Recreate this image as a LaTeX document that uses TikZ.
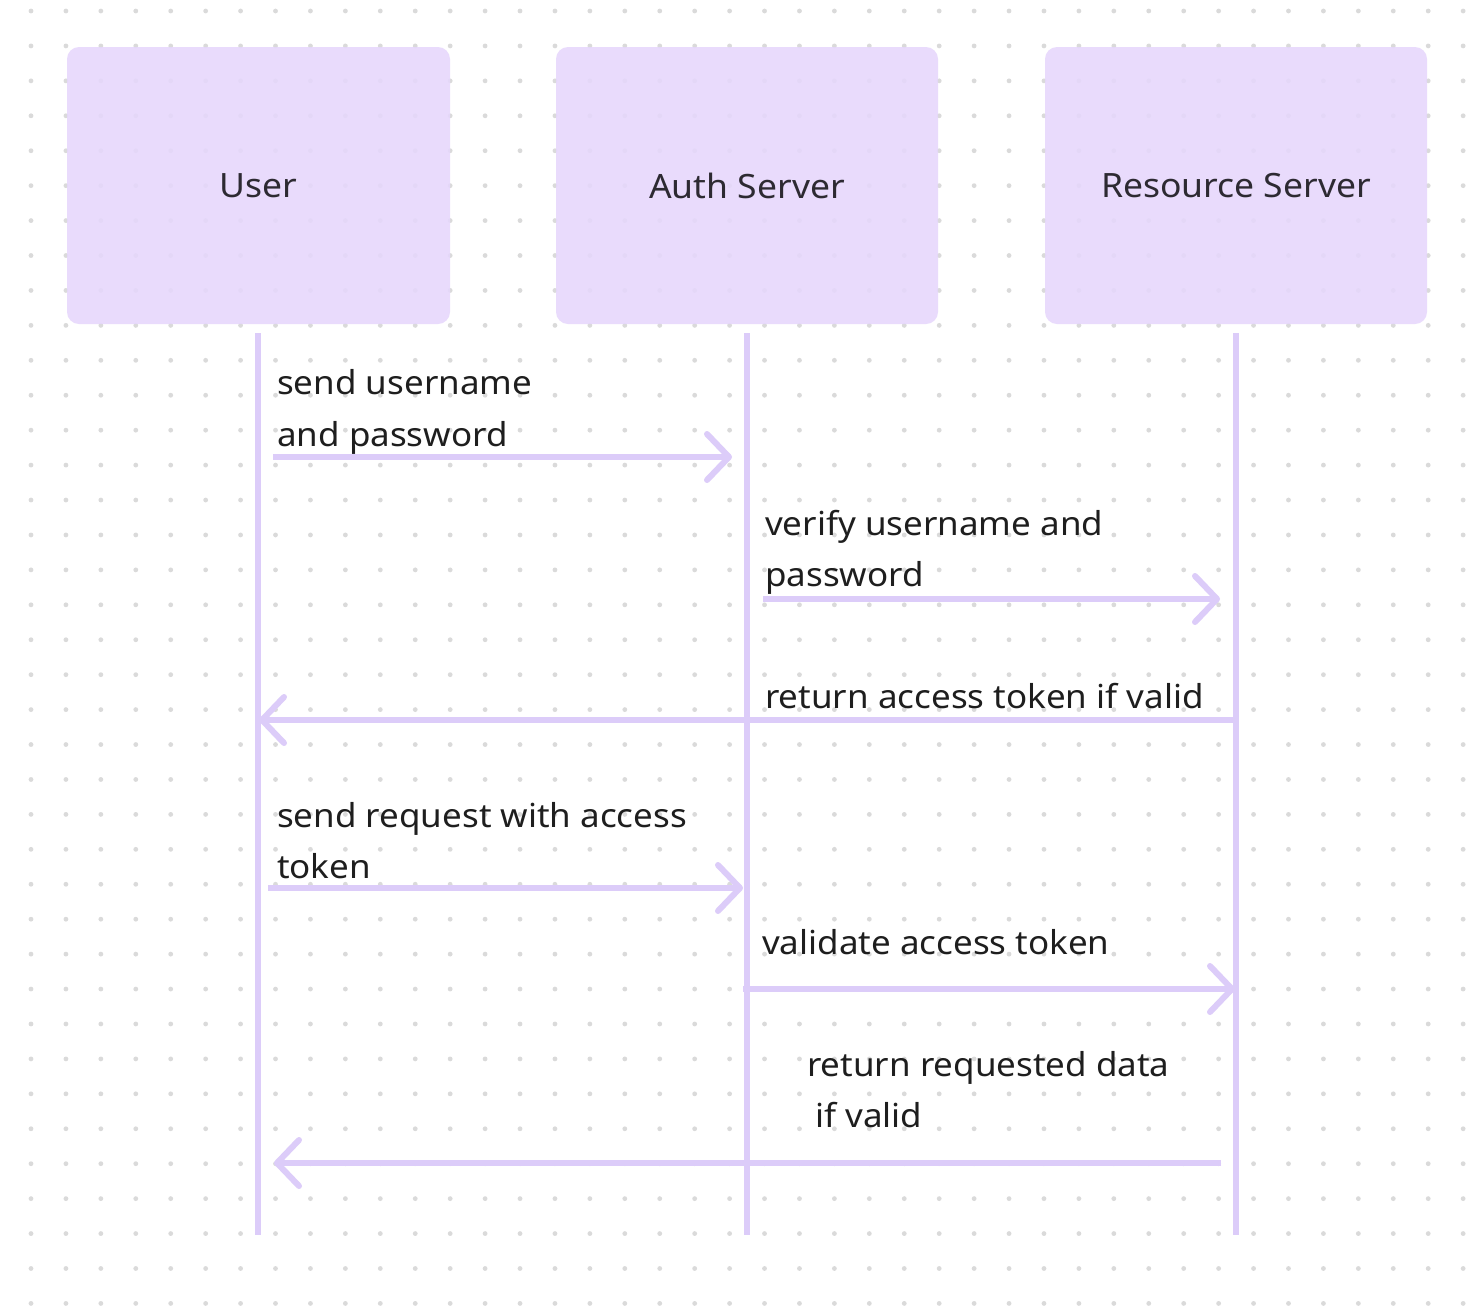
\documentclass[tikz,border=0pt]{standalone}
\usepackage{fontspec}
\setmainfont[FakeStretch=1.06]{Noto Sans}
\usetikzlibrary{arrows.meta}
\definecolor{boxfill}{RGB}{230,215,252}
\definecolor{lifeline}{RGB}{220,204,249}
\definecolor{dotc}{RGB}{218,218,218}
\definecolor{txt}{RGB}{30,30,30}
\definecolor{actortxt}{RGB}{45,42,50}
\tikzset{
  actor/.style={fill=boxfill, fill opacity=0.88, rounded corners=12pt, draw=none},
  actorlabel/.style={text=actortxt, font=\fontsize{33.5}{40}\selectfont, anchor=center},
  life/.style={draw=lifeline, line width=6pt},
  msg/.style={draw=lifeline, line width=6pt, -{Straight Barb[length=22pt,width=46pt,round]}},
  msglabel/.style={text=txt, font=\fontsize{33}{51.5}\selectfont, anchor=base west, inner sep=0pt, align=left},
}
\begin{document}
\begin{tikzpicture}[x=1pt,y=-1pt]
\useasboundingbox (0,0) rectangle (1484,1310);
\fill[white] (0,0) rectangle (1484,1310);
% dot grid
\foreach \i in {0,...,41} {
  \foreach \j in {0,...,37} {
    \fill[dotc] (31+\i*34.93, 11+\j*34.93) circle (2.4pt);
  }
}
% actor boxes
\fill[actor] (67,47) rectangle (450,324);
\fill[actor] (556,47) rectangle (938,324);
\fill[actor] (1045,47) rectangle (1427,324);
\node[actorlabel] (user) at (258.5,185.5) {User};
\node[actorlabel] (auth) at (747,185.5) {Auth Server};
\node[actorlabel] (res) at (1236,185.5) {Resource Server};
% lifelines
\coordinate (u0) at (258,333); \coordinate (u1) at (258,1235);
\coordinate (a0) at (747,333); \coordinate (a1) at (747,1235);
\coordinate (r0) at (1236,333); \coordinate (r1) at (1236,1235);
\draw[life] (u0) -- (u1);
\draw[life] (a0) -- (a1);
\draw[life] (r0) -- (r1);
% messages
\coordinate (m1s) at (273,457); \coordinate (m1e) at (732,457);
\coordinate (m2s) at (763,599); \coordinate (m2e) at (1220,599);
\coordinate (m3s) at (1236,720); \coordinate (m3e) at (259,720);
\coordinate (m4s) at (268,888); \coordinate (m4e) at (743,888);
\coordinate (m5s) at (743,989); \coordinate (m5e) at (1235,989);
\coordinate (m6s) at (1221,1163); \coordinate (m6e) at (274,1163);
\draw[msg] (m1s) -- (m1e);
\draw[msg] (m2s) -- (m2e);
\draw[msg] (m3s) -- (m3e);
\draw[msg] (m4s) -- (m4e);
\draw[msg] (m5s) -- (m5e);
\draw[msg] (m6s) -- (m6e);
% labels (anchor = baseline of last line)
\node[msglabel] (l1) at (277,446) {send username\\and password};
\node[msglabel] (l2) at (765,586.5) {verify username and\\password};
\node[msglabel] (l3) at (765,708) {return access token if valid};
\node[msglabel] (l4) at (277,878.5) {send request with access\\token};
\node[msglabel] (l5) at (762,954) {validate access token};
\node[msglabel] (l6) at (807,1127.5) {return requested data\\\hspace*{8pt}if valid};
\end{tikzpicture}
\end{document}
